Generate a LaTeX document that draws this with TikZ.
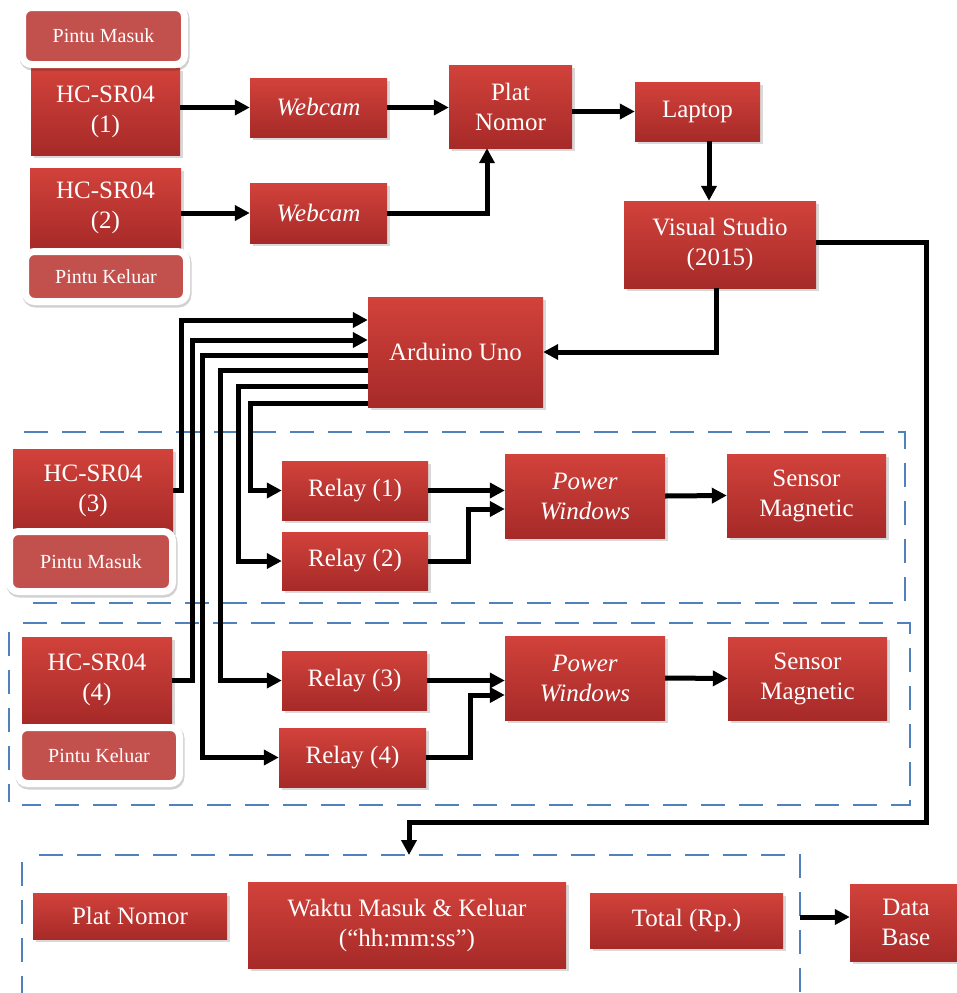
\documentclass[tikz,border=0pt]{standalone}
\usepackage{fontspec}
\setmainfont{Liberation Serif}
\usetikzlibrary{arrows.meta,shadows}
\definecolor{merahatas}{RGB}{210,66,59}
\definecolor{merahbawah}{RGB}{166,42,40}
\definecolor{merahpintu}{RGB}{194,80,77}
\definecolor{garisbiru}{RGB}{79,129,189}

\begin{document}
\begin{tikzpicture}[x=1pt,y=-1pt,
  >={Triangle[length=15pt,width=15pt]},
  blok/.style={top color=merahatas, bottom color=merahbawah, text=white, align=center,
    inner sep=0pt, font=\fontsize{25}{30}\selectfont,
    drop shadow={opacity=0.3,shadow xshift=3pt,shadow yshift=-3pt}},
  miring/.style={blok, font=\fontsize{25}{30}\selectfont\itshape},
  pintu/.style={fill=merahpintu, draw=white, line width=7pt, rounded corners=9pt,
    text=white, inner sep=0pt, font=\fontsize{20}{24}\selectfont,
    preaction={draw=black, line width=8pt, opacity=0.18,
      transform canvas={xshift=1pt,yshift=-2pt}}},
  kabel/.style={line width=5pt},
  batas/.style={garisbiru, line width=2pt, dash pattern=on 24pt off 14pt}]
\useasboundingbox (0,0) rectangle (956,993);

% garis putus-putus
\draw[batas] (24,432) -- (905,432) -- (905,603) -- (22,603);
\draw[batas] (23,623) -- (910,623) -- (910,805) -- (22,805);
\draw[batas] (9,632) -- (9,802);
\draw[batas] (39,855) -- (800,855) -- (800,993);
\draw[batas] (22,862) -- (22,993);

% bagian atas
\node[blok, minimum width=149, minimum height=87] (hc1) at (105.5,111.5) {HC-SR04\\(1)};
\node[blok, minimum width=151, minimum height=80] (hc2) at (105.5,208) {HC-SR04\\(2)};
\node[pintu, minimum width=162, minimum height=57] (pm1) at (103.5,36) {Pintu Masuk};
\node[pintu, minimum width=161, minimum height=50] (pk1) at (106,276.5) {Pintu Keluar};
\node[miring, minimum width=137, minimum height=59] (wc1) at (318.5,107.5) {Webcam};
\node[miring, minimum width=137, minimum height=60] (wc2) at (318.5,213) {Webcam};
\node[blok, minimum width=123, minimum height=83] (plat) at (510.5,106.5) {Plat\\Nomor};
\node[blok, minimum width=125, minimum height=59] (laptop) at (697.5,111.5) {Laptop};
\node[blok, minimum width=192, minimum height=87] (vs) at (720,244.5) {Visual Studio\\(2015)};
\node[blok, minimum width=175, minimum height=110] (ard) at (455.5,352) {Arduino Uno};

% pintu masuk
\node[blok, minimum width=160, minimum height=83] (hc3) at (93,490.5) {HC-SR04\\(3)};
\node[pintu, minimum width=163, minimum height=60] (pm2) at (91,561.5) {Pintu Masuk};
\node[blok, minimum width=146, minimum height=59] (r1) at (355,490.5) {Relay (1)};
\node[blok, minimum width=146, minimum height=58] (r2) at (355,561) {Relay (2)};
\node[miring, minimum width=160, minimum height=84] (pw1) at (585,496) {Power\\Windows};
\node[blok, minimum width=159, minimum height=83] (sm1) at (806.5,495.5) {Sensor\\Magnetic};

% pintu keluar
\node[blok, minimum width=150, minimum height=86] (hc4) at (97,680) {HC-SR04\\(4)};
\node[pintu, minimum width=161, minimum height=56] (pk2) at (99,755.5) {Pintu Keluar};
\node[blok, minimum width=145, minimum height=59] (r3) at (354.5,680.5) {Relay (3)};
\node[blok, minimum width=147, minimum height=59] (r4) at (352.5,757.5) {Relay (4)};
\node[miring, minimum width=160, minimum height=84] (pw2) at (585,678) {Power\\Windows};
\node[blok, minimum width=159, minimum height=83] (sm2) at (807.5,678.5) {Sensor\\Magnetic};

% rekap
\node[blok, minimum width=194, minimum height=46] (plat2) at (130,916) {Plat Nomor};
\node[blok, minimum width=318, minimum height=86] (waktu) at (407,925) {Waktu Masuk \& Keluar\\(``hh:mm:ss'')};
\node[blok, minimum width=193, minimum height=55] (total) at (686.5,920.5) {Total (Rp.)};
\node[blok, minimum width=112, minimum height=77] (db) at (906,922.5) {Data\\Base};
\coordinate (rekap) at (409,855);
\coordinate (rekapkanan) at (800,917);

% kabel
\draw[kabel,->] (hc1.east |- wc1.west) -- (wc1.west);
\draw[kabel,->] (hc2.east |- wc2.west) -- (wc2.west);
\draw[kabel,->] (wc1.east) -- (wc1.east -| plat.west);
\draw[kabel,->] (wc2.east) -| ([xshift=-23.5pt]plat.south);
\draw[kabel,->] (plat.east |- laptop.west) -- (laptop.west);
\draw[kabel,->] ([xshift=11.5pt]laptop.south) -- ([xshift=11.5pt]laptop.south |- vs.north);
\draw[kabel,->] ([xshift=-4pt]vs.south) |- (ard.east);
\draw[kabel,->] ([yshift=2pt]vs.east) -| (926,822) -| (rekap);

\draw[kabel,->] (hc3.east) -- ++(8,0) |- ([yshift=32pt]ard.west);
\draw[kabel,->] (hc4.east) -- ++(20,0) |- ([yshift=12pt]ard.west);
\draw[kabel,->] ([yshift=-3pt]ard.west) -- ++(-165,0) |- (r4.west);
\draw[kabel,->] ([yshift=-18pt]ard.west) -- ++(-147,0) |- (r3.west);
\draw[kabel,->] ([yshift=-34pt]ard.west) -- ++(-129,0) |- (r2.west);
\draw[kabel,->] ([yshift=-51pt]ard.west) -- ++(-117,0) |- (r1.west);

\draw[kabel,->] (r1.east) -- (r1.east -| pw1.west);
\draw[kabel,->] (r2.east) -- ++(40,0) |- ([yshift=-13pt]pw1.west);
\draw[kabel,->] (pw1.east) -- (sm1.west);
\draw[kabel,->] (r3.east) -- (r3.east -| pw2.west);
\draw[kabel,->] (r4.east) -- ++(44,0) |- ([yshift=-17pt]pw2.west);
\draw[kabel,->] (pw2.east) -- (sm2.west);
\draw[kabel,->] (rekapkanan) -- (rekapkanan -| db.west);
\end{tikzpicture}
\end{document}
